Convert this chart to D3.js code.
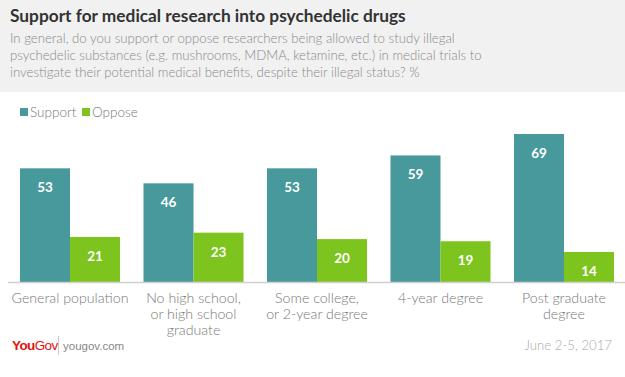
<!DOCTYPE html>
<html>
<head>
<meta charset="utf-8">
<script src="https://cdn.jsdelivr.net/npm/d3@7"></script>
<style>
  body { margin: 0; background: #fff; }
  svg { display: block; font-family: Lato, "Open Sans", sans-serif; }
</style>
</head>
<body>
<div id="chart"></div>
<script>
// data
var categories = ["General population", "No high school, or high school graduate", "Some college, or 2-year degree", "4-year degree", "Post graduate degree"];
var categoryLines = [["General population"], ["No high school,", "or high school", "graduate"], ["Some college,", "or 2-year degree"], ["4-year degree"], ["Post graduate", "degree"]];
var seriesNames = ["Support", "Oppose"];
var support = [53, 46, 53, 59, 69];
var oppose = [21, 23, 20, 19, 14];
var colors = ["#47999b", "#7ec41f"];

var W = 625, H = 377;
var svg = d3.select("#chart").append("svg").attr("width", W).attr("height", H);

// header block
svg.append("rect").attr("x", 0).attr("y", 0).attr("width", W).attr("height", 92).attr("fill", "#f1f1f1");
svg.append("text").attr("x", 10).attr("y", 22).attr("font-size", 17.3).attr("font-weight", 700)
  .attr("fill", "#333").text("Support for medical research into psychedelic drugs");
var sub = ["In general, do you support or oppose researchers being allowed to study illegal",
  "psychedelic substances (e.g. mushrooms, MDMA, ketamine, etc.) in medical trials to",
  "investigate their potential medical benefits, despite their illegal status? %"];
svg.append("g").selectAll("text").data(sub).join("text")
  .attr("x", 10).attr("y", function(d, i){ return 43 + i * 17; })
  .attr("font-size", 13.2).attr("font-weight", 300).attr("fill", "#8a8a8a").text(function(d){ return d; });

// legend
var leg = svg.append("g").attr("transform", "translate(20,113)");
var lx = [0, 62];
seriesNames.forEach(function(s, i){
  leg.append("rect").attr("x", lx[i]).attr("y", -5).attr("width", 8).attr("height", 8).attr("fill", colors[i]);
  leg.append("text").attr("x", lx[i] + 10).attr("y", 4).attr("font-size", 13.5).attr("font-weight", 300)
    .attr("fill", "#777").text(s);
});

// scales
var baseY = 282;
var x0 = d3.scaleBand().domain(categories).range([20, 614]).paddingInner(0.19).paddingOuter(0);
var x1 = d3.scaleBand().domain(seriesNames).range([0, x0.bandwidth()]);
var y = d3.scaleLinear().domain([0, 69]).range([baseY, 134]);

var rows = categories.map(function(c, i){ return {cat: c, vals: [support[i], oppose[i]], lines: categoryLines[i]}; });

var groups = svg.append("g").selectAll("g").data(rows).join("g")
  .attr("transform", function(d){ return "translate(" + x0(d.cat) + ",0)"; });

groups.selectAll("rect").data(function(d){ return d.vals.map(function(v, i){ return {s: seriesNames[i], v: v, i: i}; }); })
  .join("rect")
  .attr("x", function(d){ return x1(d.s); }).attr("width", x1.bandwidth())
  .attr("y", function(d){ return y(d.v); }).attr("height", function(d){ return baseY - y(d.v); })
  .attr("fill", function(d){ return colors[d.i]; });

groups.selectAll("text.val").data(function(d){ return d.vals.map(function(v, i){ return {s: seriesNames[i], v: v}; }); })
  .join("text").attr("class", "val")
  .attr("x", function(d){ return x1(d.s) + x1.bandwidth() / 2; })
  .attr("y", function(d){ return y(d.v) + 24; })
  .attr("text-anchor", "middle").attr("font-size", 13.5).attr("font-weight", 700).attr("fill", "#fff")
  .text(function(d){ return d.v; });

// axis line
svg.append("line").attr("x1", 8).attr("x2", W).attr("y1", baseY + 0.5).attr("y2", baseY + 0.5)
  .attr("stroke", "#d0d0d0").attr("stroke-width", 1.5);

// category labels
groups.append("text").attr("text-anchor", "middle").attr("font-size", 14.2).attr("font-weight", 300).attr("fill", "#777")
  .selectAll("tspan").data(function(d){ return d.lines; }).join("tspan")
  .attr("x", x0.bandwidth() / 2).attr("y", function(d, i){ return 303 + i * 16; }).text(function(d){ return d; });

// footer
var logo = svg.append("text").attr("x", 12).attr("y", 350).attr("font-size", 13.5).attr("letter-spacing", -0.6)
  .attr("font-family", "Arial, 'Liberation Sans', sans-serif");
logo.append("tspan").attr("font-weight", 700).attr("fill", "#e3120b").text("You");
logo.append("tspan").attr("fill", "#e3120b").text("Gov");
svg.append("line").attr("x1", 58.5).attr("x2", 58.5).attr("y1", 336).attr("y2", 355).attr("stroke", "#ccc");
svg.append("text").attr("x", 63).attr("y", 350).attr("font-size", 11.5).attr("fill", "#888")
  .attr("font-family", "Arial, 'Liberation Sans', sans-serif").text("yougov.com");
svg.append("text").attr("x", 612).attr("y", 350).attr("text-anchor", "end").attr("font-size", 13.2).attr("font-weight", 300)
  .attr("fill", "#aaa").text("June 2-5, 2017");
</script>
</body>
</html>
